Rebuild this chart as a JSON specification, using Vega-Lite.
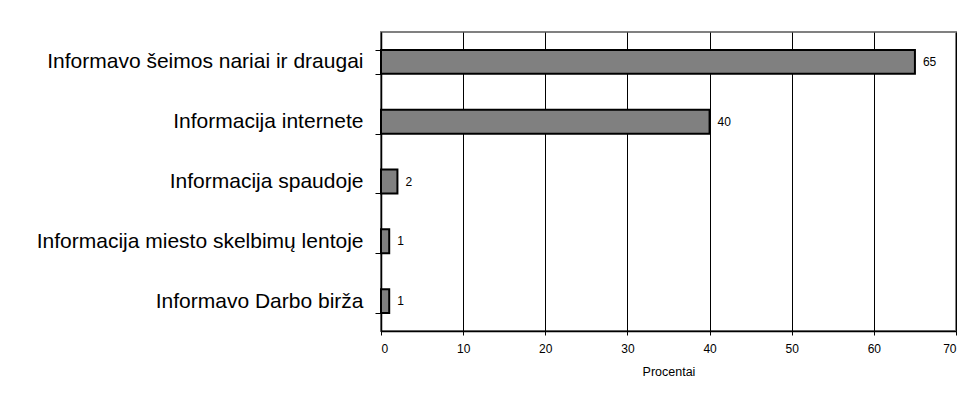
{
  "$schema": "https://vega.github.io/schema/vega-lite/v6.json",
  "autosize": "none",
  "width": 575,
  "height": 299,
  "padding": {"left": 381, "top": 32, "right": 18, "bottom": 70},
  "background": "white",
  "config": {
    "font": "Liberation Sans",
    "view": {"stroke": "#808080", "strokeWidth": 2},
    "axis": {"labelFont": "Liberation Sans", "titleFont": "Liberation Sans"}
  },
  "data": {
    "values": [
      {"kategorija": "Informavo šeimos nariai ir draugai", "procentai": 65},
      {"kategorija": "Informacija internete", "procentai": 40},
      {"kategorija": "Informacija spaudoje", "procentai": 2},
      {"kategorija": "Informacija miesto skelbimų lentoje", "procentai": 1},
      {"kategorija": "Informavo Darbo birža", "procentai": 1}
    ]
  },
  "encoding": {
    "y": {
      "field": "kategorija",
      "type": "nominal",
      "sort": null,
      "scale": {"paddingInner": 0.6, "paddingOuter": 0.3},
      "axis": {
        "title": null,
        "labelFontSize": 21,
        "labelColor": "black",
        "labelPadding": 12,
        "tickSize": 6,
        "tickColor": "black",
        "tickBand": "extent",
        "domainColor": "black",
        "domainWidth": 1.5,
        "grid": false,
        "labelLimit": 400
      }
    },
    "x": {
      "field": "procentai",
      "type": "quantitative",
      "scale": {"domain": [0, 70], "nice": false},
      "axis": {
        "title": "Procentai",
        "titleFontSize": 12.5,
        "titleFontWeight": "normal",
        "titleColor": "black",
        "titlePadding": 11,
        "values": [0, 10, 20, 30, 40, 50, 60, 70],
        "labelFontSize": 12,
        "labelColor": "black",
        "labelPadding": 8,
        "tickSize": 4,
        "tickColor": "black",
        "domainColor": "black",
        "domainWidth": 1.5,
        "grid": true,
        "gridColor": "black",
        "gridOpacity": 1,
        "gridWidth": 1
      }
    }
  },
  "layer": [
    {
      "mark": {"type": "bar", "fill": "#808080", "stroke": "black", "strokeWidth": 2}
    },
    {
      "mark": {"type": "text", "align": "left", "dx": 8, "fontSize": 12, "fill": "black"},
      "encoding": {"text": {"field": "procentai", "type": "quantitative"}}
    }
  ]
}
